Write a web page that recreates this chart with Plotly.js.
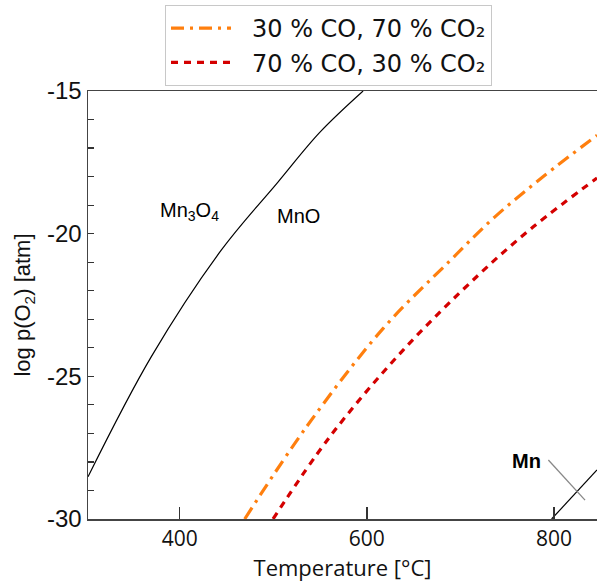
<!DOCTYPE html>
<html>
<head>
<meta charset="utf-8">
<script src="https://cdn.plot.ly/plotly-3.0.1.min.js"></script>
<style>
  html, body { margin: 0; padding: 0; background: #fff; }
  #chart { width: 597px; height: 588px; }
</style>
</head>
<body>
<div id="chart"></div>
<script>
// Mn3O4 / MnO phase boundary
const boundaryT = [302, 369.7, 444.6, 504.8, 549.7, 596];
const boundaryP = [-28.52, -24.31, -20.57, -18.2, -16.45, -15];

// MnO / Mn phase boundary
const mnBoundaryT = [797.5, 846];
const mnBoundaryP = [-30, -28.28];

// Leader line for the "Mn" label
const mnLeaderT = [794.0, 833.2];
const mnLeaderP = [-27.93, -29.34];

// Gas atmosphere equilibrium: 30 % CO, 70 % CO2
const gas30T = [469.5, 535.5, 617.5, 688.8, 736.9, 788.6, 846];
const gas30P = [-30, -26.77, -23.32, -20.95, -19.41, -18.0, -16.55];

// Gas atmosphere equilibrium: 70 % CO, 30 % CO2
const gas70T = [499.8, 560.4, 638.8, 720.9, 777.9, 846];
const gas70P = [-30, -27.12, -24.08, -21.4, -19.76, -18.05];

const seriesNames = ['30 % CO, 70 % CO₂', '70 % CO, 30 % CO₂'];

// Axis tick labels (plain hyphen for negative values)
const yTickVals = [-30, -25, -20, -15];
const yTickLabels = ['-30', '-25', '-20', '-15'];
const xTickVals = [400, 600, 800];
const xTickLabels = ['400', '600', '800'];

// Phase field labels
const labelText = ['Mn<sub>3</sub>O<sub>4</sub>', 'MnO', '<b>Mn</b>'];
const labelT = [410.7, 527.3, 771.1];
const labelP = [-19.24, -19.38, -27.97];

const traces = [
  { x: boundaryT, y: boundaryP, mode: 'lines', showlegend: false,
    line: { color: '#000', width: 1.2, shape: 'spline', smoothing: 1 }, hoverinfo: 'skip' },
  { x: mnBoundaryT, y: mnBoundaryP, mode: 'lines', showlegend: false,
    line: { color: '#000', width: 1.2 }, hoverinfo: 'skip' },
  { x: mnLeaderT, y: mnLeaderP, mode: 'lines', showlegend: false,
    line: { color: '#888', width: 1.3 }, hoverinfo: 'skip' },
  { x: gas30T, y: gas30P, mode: 'lines', name: seriesNames[0],
    line: { color: '#ff7f0e', width: 3.2, dash: '13px,6px,3px,6px', shape: 'spline', smoothing: 1 } },
  { x: gas70T, y: gas70P, mode: 'lines', name: seriesNames[1],
    line: { color: '#d40000', width: 3.2, dash: '7px,6px', shape: 'spline', smoothing: 1 } }
];

const annotations = labelText.map((t, i) => ({
  x: labelT[i], y: labelP[i], xref: 'x', yref: 'y', text: t, showarrow: false,
  font: { family: 'Liberation Sans, Arial, sans-serif', size: 20, color: '#000' }
}));

const layout = {
  width: 597, height: 588,
  margin: { l: 88, r: 0, t: 91, b: 69, pad: 0 },
  paper_bgcolor: '#fff', plot_bgcolor: '#fff',
  showlegend: true,
  legend: {
    x: (165 - 88) / 509, y: (519 - 5) / 428, xanchor: 'left', yanchor: 'top',
    bgcolor: '#fff', bordercolor: '#c8c8c8', borderwidth: 1,
    itemwidth: 76,
    font: { family: 'DejaVu Sans, sans-serif', size: 24, color: '#111' }
  },
  xaxis: {
    range: [302, 846], tickmode: 'array', tickvals: xTickVals, ticktext: xTickLabels,
    ticks: 'inside', ticklen: 12, tickwidth: 1.5, tickcolor: '#333',
    showline: true, linecolor: '#444', linewidth: 1.5, mirror: true,
    showgrid: false, zeroline: false,
    tickfont: { family: 'Open Sans, sans-serif', size: 21, color: '#111' },
    title: { text: 'Temperature [°C]', standoff: 6,
      font: { family: 'Open Sans, sans-serif', size: 22, color: '#111' } }
  },
  yaxis: {
    range: [-30, -15], tickmode: 'array', tickvals: yTickVals, ticktext: yTickLabels,
    ticks: 'inside', ticklen: 6, tickwidth: 1.2, tickcolor: '#333',
    minor: { tickmode: 'linear', tick0: 0, dtick: 1, ticks: 'inside', ticklen: 6, tickwidth: 1.2, tickcolor: '#333', showgrid: false },
    showline: true, linecolor: '#444', linewidth: 1.5, mirror: false,
    showgrid: false, zeroline: false,
    tickfont: { family: 'Liberation Sans, Arial, sans-serif', size: 24, color: '#111' },
    title: { text: 'log p(O<sub>2</sub>) [atm]', standoff: 10,
      font: { family: 'Liberation Sans, Arial, sans-serif', size: 22, color: '#111' } }
  },
  annotations: annotations
};

Plotly.newPlot('chart', traces, layout, { staticPlot: true, displayModeBar: false }).then(() => {
  // longer line samples in the legend
  document.querySelectorAll('.legend .legendlines path').forEach(p => p.setAttribute('d', 'M5,0h60'));
});
</script>
</body>
</html>
